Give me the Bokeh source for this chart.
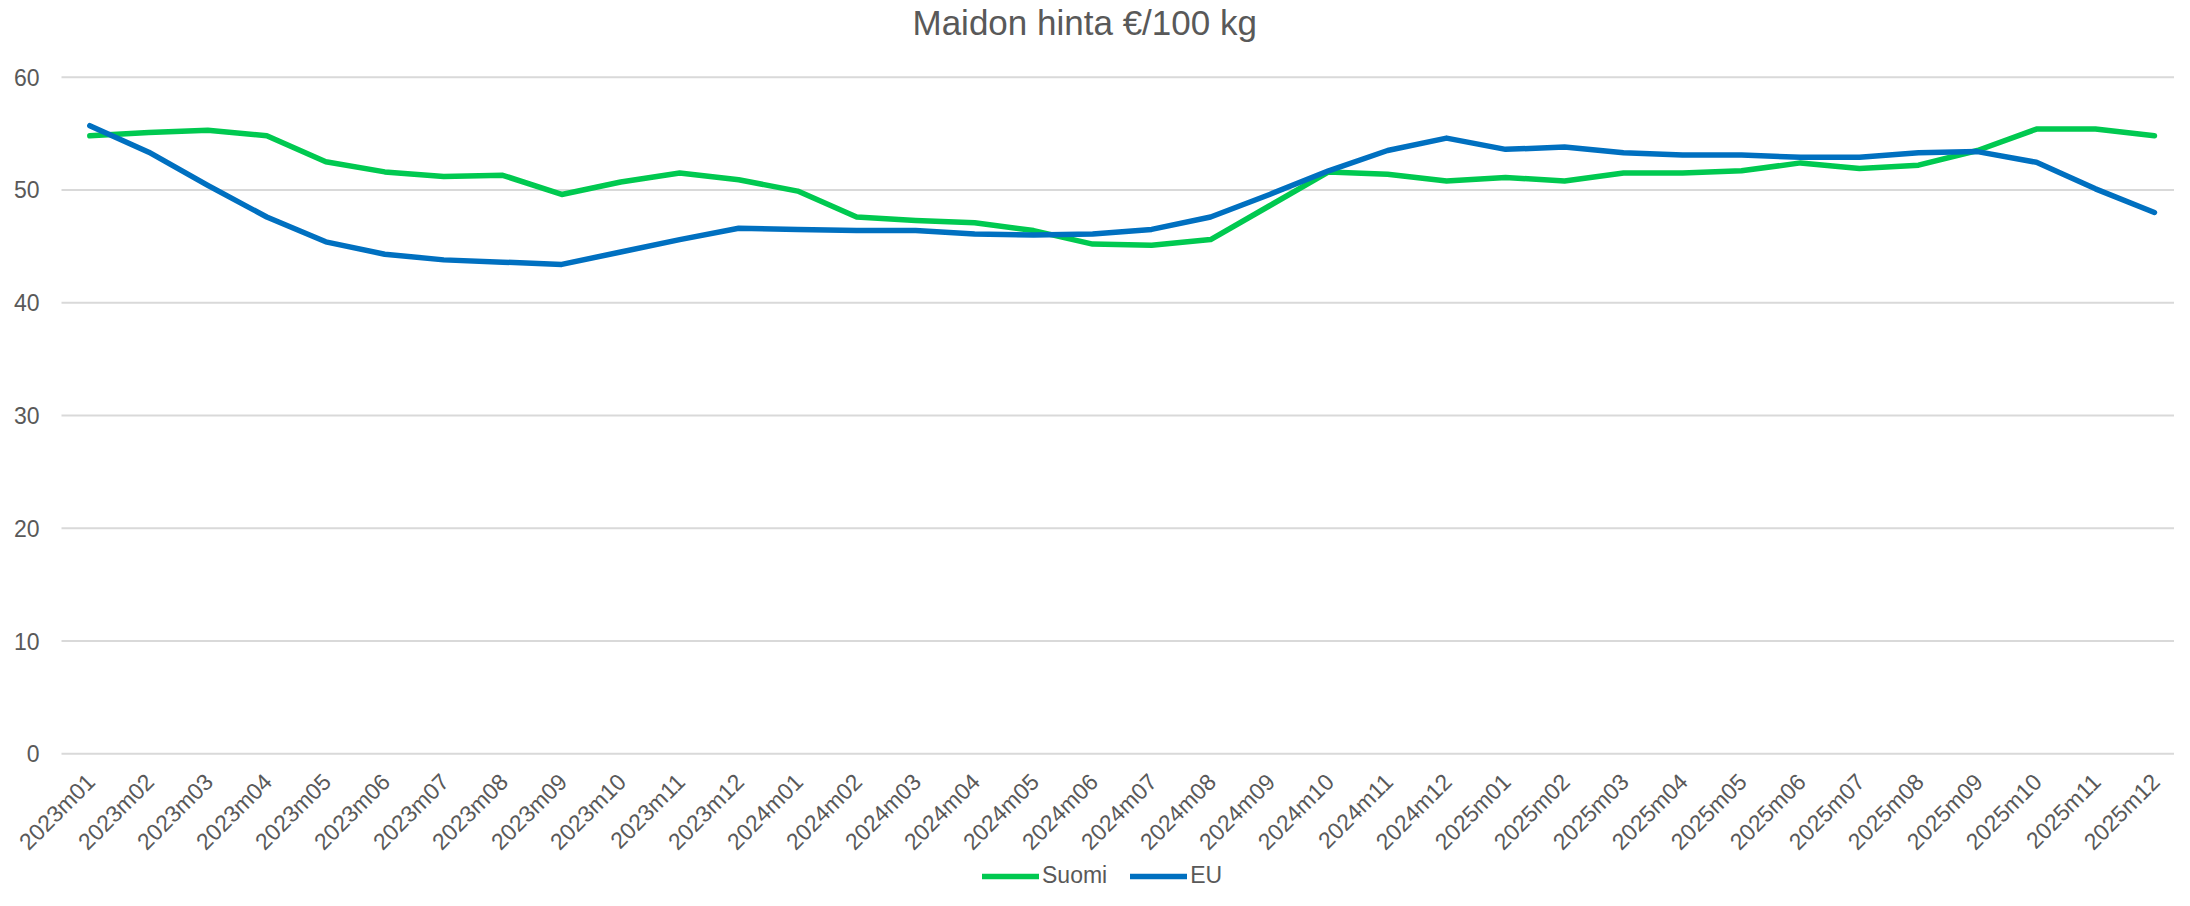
import math
from bokeh.plotting import figure
from bokeh.models import (Range1d, Legend, LegendItem, ColumnDataSource, Label)
from bokeh.core.properties import value
from bokeh.embed import file_html
from bokeh.resources import INLINE

months = ["2023m01", "2023m02", "2023m03", "2023m04", "2023m05", "2023m06",
          "2023m07", "2023m08", "2023m09", "2023m10", "2023m11", "2023m12",
          "2024m01", "2024m02", "2024m03", "2024m04", "2024m05", "2024m06",
          "2024m07", "2024m08", "2024m09", "2024m10", "2024m11", "2024m12",
          "2025m01", "2025m02", "2025m03", "2025m04", "2025m05", "2025m06",
          "2025m07", "2025m08", "2025m09", "2025m10", "2025m11", "2025m12"]

suomi = [54.8, 55.1, 55.3, 54.8, 52.5, 51.6, 51.2, 51.3, 49.6, 50.7, 51.5, 50.9,
         49.9, 47.6, 47.3, 47.1, 46.4, 45.2, 45.1, 45.6, 48.6, 51.6, 51.4, 50.8,
         51.1, 50.8, 51.5, 51.5, 51.7, 52.4, 51.9, 52.2, 53.5, 55.4, 55.4, 54.8]

eu = [55.7, 53.35, 50.4, 47.6, 45.4, 44.3, 43.8, 43.6, 43.4, 44.5, 45.6, 46.6,
      46.5, 46.4, 46.4, 46.1, 46.0, 46.1, 46.5, 47.6, 49.6, 51.7, 53.5, 54.6,
      53.6, 53.8, 53.3, 53.1, 53.1, 52.9, 52.9, 53.3, 53.4, 52.45, 50.1, 48.0]

y_ticks = [0, 10, 20, 30, 40, 50, 60]
y_tick_labels = ["0", "10", "20", "30", "40", "50", "60"]
series_names = ["Suomi", "EU"]
series_colors = ["#00C950", "#0070C0"]
title_text = "Maidon hinta €/100 kg"

FONT = "Liberation Sans"
GREY = "#595959"

x_idx = list(range(len(months)))
src = ColumnDataSource(dict(x=x_idx, month=months, suomi=suomi, eu=eu))

X_LEFT = -0.48                      # left edge of the plotting area
X_RIGHT = len(months) - 1 + 0.34    # right edge

p = figure(width=2174, height=890,
           x_range=Range1d(-1.514, X_RIGHT),
           y_range=Range1d(-12.12, 66.80),
           output_backend="svg", toolbar_location=None,
           min_border_left=0, min_border_right=0,
           min_border_top=0, min_border_bottom=0)

p.outline_line_color = None
p.xaxis.visible = False
p.yaxis.visible = False
p.xgrid.visible = False
p.ygrid.visible = False

# horizontal gridlines at the value ticks
p.segment(x0=X_LEFT, x1=X_RIGHT + 1, y0=y_ticks, y1=y_ticks,
          line_color="#D9D9D9", line_width=2)

# value labels
p.text(x=X_LEFT, y=y_ticks, text=y_tick_labels, x_offset=-22,
       text_align="right", text_baseline="middle",
       text_font=value(FONT), text_font_size=value("23px"), text_color=GREY)

r1 = p.line(x="x", y="suomi", source=src, line_color=series_colors[0],
            line_width=5.5, line_join="round", line_cap="round")
r2 = p.line(x="x", y="eu", source=src, line_color=series_colors[1],
            line_width=5.5, line_join="round", line_cap="round")

# category labels, rotated 45 degrees under the zero line
p.text(x="x", y=-1.66, text="month", source=src, angle=math.pi / 4,
       x_offset=-8, y_offset=-4,
       text_align="right", text_baseline="top",
       text_font=value(FONT), text_font_size=value("23px"), text_color=GREY)

title = Label(x=912, y=868, x_units="screen", y_units="screen",
              text=title_text, text_font=FONT, text_font_size="35px",
              text_color=GREY, text_align="left", text_baseline="middle")
p.add_layout(title)

legend = Legend(items=[LegendItem(label=series_names[0], renderers=[r1]),
                       LegendItem(label=series_names[1], renderers=[r2])],
                orientation="horizontal", location=(982, 1),
                padding=0, margin=0, spacing=23, label_standoff=3,
                glyph_width=57, glyph_height=20,
                border_line_alpha=0, background_fill_alpha=0,
                label_text_font=FONT, label_text_font_size="23px",
                label_text_color=GREY)
p.add_layout(legend, "center")

open("out.html", "w").write(file_html(p, INLINE))
